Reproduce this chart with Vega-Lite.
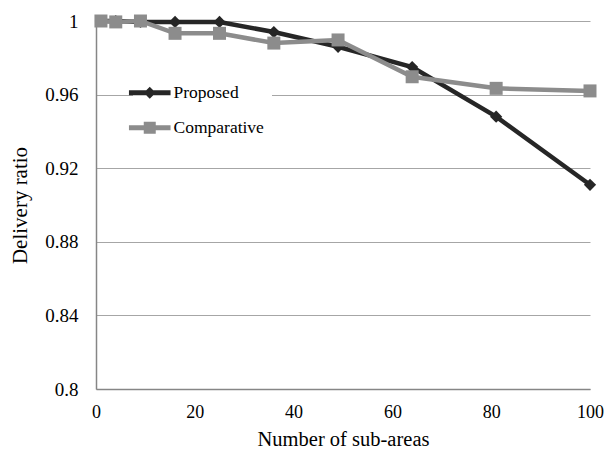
{
  "$schema": "https://vega.github.io/schema/vega-lite/v6.json",
  "width": 494,
  "height": 368,
  "autosize": {"type": "none"},
  "padding": {"left": 96, "top": 21, "right": 15, "bottom": 66},
  "background": "white",
  "data": {
    "values": [
      {"series": "Proposed", "areas": 1, "ratio": 1},
      {"series": "Proposed", "areas": 4, "ratio": 1},
      {"series": "Proposed", "areas": 9, "ratio": 0.9995},
      {"series": "Proposed", "areas": 16, "ratio": 0.9995},
      {"series": "Proposed", "areas": 25, "ratio": 0.9995},
      {"series": "Proposed", "areas": 36, "ratio": 0.994},
      {"series": "Proposed", "areas": 49, "ratio": 0.986},
      {"series": "Proposed", "areas": 64, "ratio": 0.975},
      {"series": "Proposed", "areas": 81, "ratio": 0.948},
      {"series": "Proposed", "areas": 100, "ratio": 0.911},
      {"series": "Comparative", "areas": 1, "ratio": 1},
      {"series": "Comparative", "areas": 4, "ratio": 0.9995},
      {"series": "Comparative", "areas": 9, "ratio": 1},
      {"series": "Comparative", "areas": 16, "ratio": 0.9933},
      {"series": "Comparative", "areas": 25, "ratio": 0.9933},
      {"series": "Comparative", "areas": 36, "ratio": 0.988},
      {"series": "Comparative", "areas": 49, "ratio": 0.9897},
      {"series": "Comparative", "areas": 64, "ratio": 0.9697},
      {"series": "Comparative", "areas": 81, "ratio": 0.9634},
      {"series": "Comparative", "areas": 100, "ratio": 0.962}
    ]
  },
  "encoding": {
    "x": {
      "field": "areas",
      "type": "quantitative",
      "scale": {"domain": [0, 100], "nice": false},
      "axis": {
        "values": [0, 20, 40, 60, 80, 100],
        "title": "Number of sub-areas",
        "grid": false,
        "ticks": false,
        "labelFlush": false,
        "domainColor": "#868686",
        "domainWidth": 1.5,
        "labelFont": "Liberation Serif",
        "labelFontSize": 18,
        "labelColor": "black",
        "labelPadding": 14,
        "titleFont": "Liberation Serif",
        "titleFontSize": 20.5,
        "titleFontWeight": "normal",
        "titleColor": "black",
        "titlePadding": 8
      }
    },
    "y": {
      "field": "ratio",
      "type": "quantitative",
      "scale": {"domain": [0.8, 1], "zero": false, "nice": false},
      "axis": {
        "values": [0.8, 0.84, 0.88, 0.92, 0.96, 1],
        "format": "~g",
        "title": "Delivery ratio",
        "grid": true,
        "gridColor": "#a6a6a6",
        "gridWidth": 1,
        "domainColor": "#868686",
        "domainWidth": 1.5,
        "ticks": false,
        "labelFlush": false,
        "labelFont": "Liberation Serif",
        "labelFontSize": 19,
        "labelColor": "black",
        "labelPadding": 18,
        "titleFont": "Liberation Serif",
        "titleFontSize": 21,
        "titleFontWeight": "normal",
        "titleColor": "black",
        "titlePadding": 14
      }
    },
    "color": {
      "field": "series",
      "type": "nominal",
      "scale": {"domain": ["Proposed", "Comparative"], "range": ["#262626", "#8c8c8c"]},
      "legend": {
        "orient": "none",
        "legendX": 37,
        "legendY": 55,
        "title": null,
        "fillColor": "white",
        "padding": 8,
        "labelFont": "Liberation Serif",
        "labelFontSize": 17.5,
        "labelColor": "black",
        "symbolSize": 256,
        "labelOffset": 15,
        "rowPadding": 16,
        "encode": {
          "symbols": {
            "update": {
              "shape": {"signal": "datum.value === 'Proposed' ? 'M-2.6,-0.3H2.6V0.3H-2.6Z M0,-0.75L0.75,0L0,0.75L-0.75,0Z' : 'M-2.6,-0.3H2.6V0.3H-2.6Z M-0.75,-0.75H0.75V0.75H-0.75Z'"},
              "fill": {"signal": "datum.value === 'Proposed' ? '#262626' : '#8c8c8c'"},
              "fillOpacity": {"value": 1},
              "opacity": {"value": 1},
              "strokeWidth": {"value": 0}
            }
          }
        }
      }
    }
  },
  "layer": [
    {"transform": [{"filter": "datum.series === 'Proposed'"}], "mark": {"type": "line", "strokeWidth": 4.5}},
    {"transform": [{"filter": "datum.series === 'Proposed'"}], "mark": {"type": "point", "shape": "diamond", "filled": true, "size": 150, "opacity": 1}},
    {"transform": [{"filter": "datum.series === 'Comparative'"}], "mark": {"type": "line", "strokeWidth": 4.5}},
    {"transform": [{"filter": "datum.series === 'Comparative'"}], "mark": {"type": "point", "shape": "square", "filled": true, "size": 169, "opacity": 1}}
  ],
  "config": {"view": {"stroke": null}, "font": "Liberation Serif"}
}
